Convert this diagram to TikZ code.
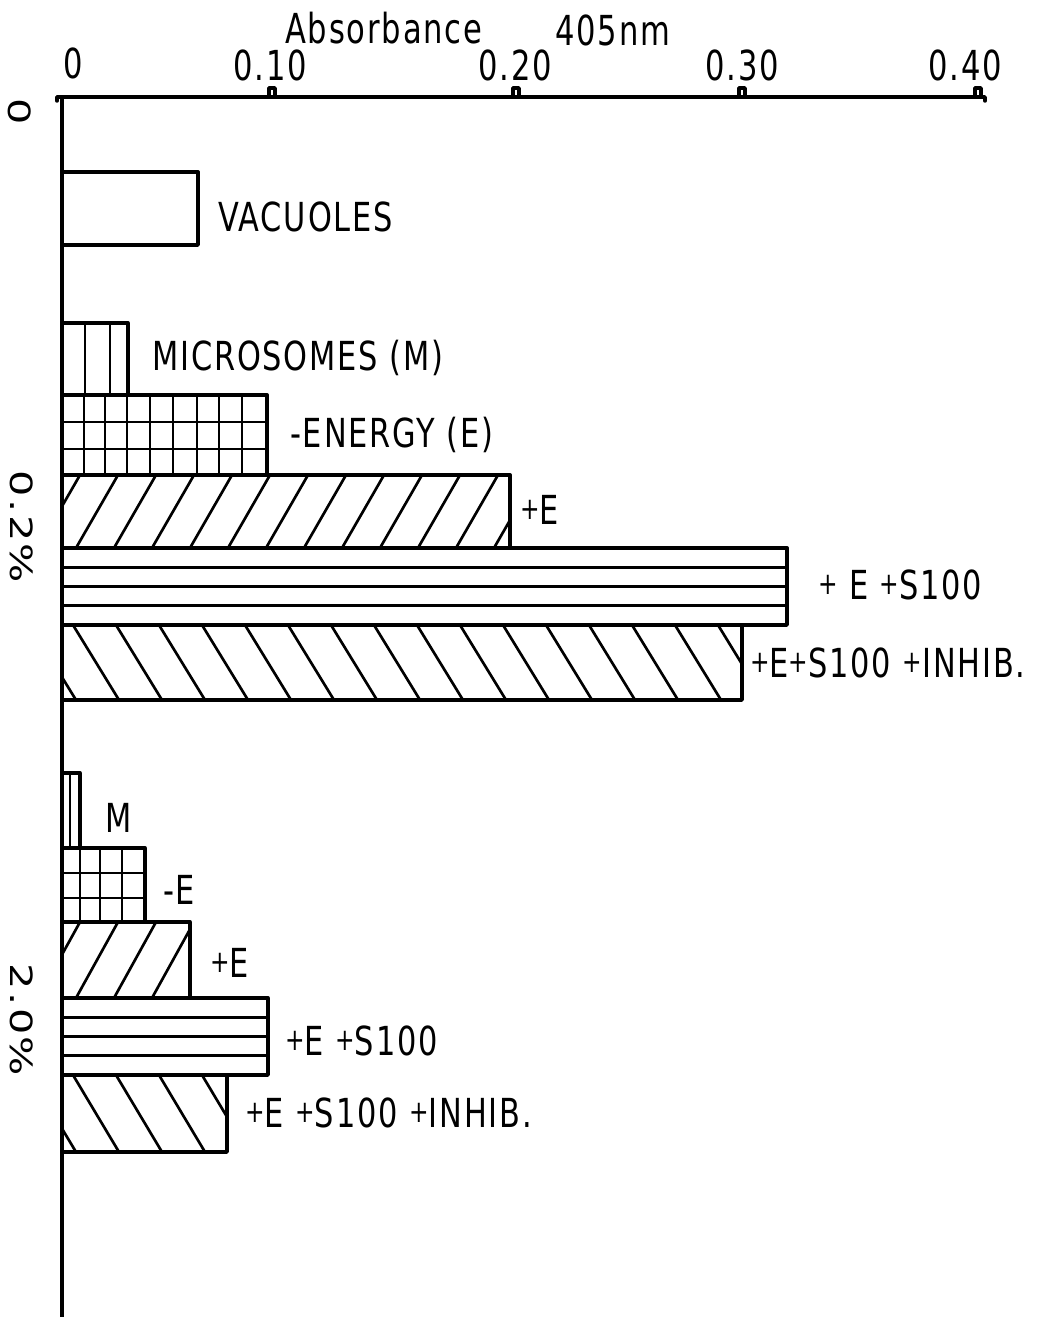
\documentclass[tikz,border=0pt]{standalone}
\usepackage{fontspec}
\newfontfamily\lettering[LetterSpace=6]{DejaVu Sans}
\newcommand\pl{\raisebox{4pt}{\fontsize{23}{23}\selectfont+}}
\begin{document}
\begin{tikzpicture}[x=0.75pt, y=-0.75pt,
    axis/.style = {line width=2.6pt, line cap=round, line join=round},
    bar/.style = {line width=2.5pt, line join=round},
    stroke/.style = {line width=2pt},
    lbl/.style = {anchor=west, inner sep=0pt, xscale=0.76,
      font=\fontsize{30}{30}\selectfont\lettering},
    num/.style = {inner sep=0pt, xscale=0.74,
      font=\fontsize{31}{31}\selectfont\lettering}]
  \useasboundingbox (0,0) rectangle (1041,1317);

  % axes
  \draw[axis] (57,101) -- (57,97) -- (985,97) -- (985,101);
  \draw[axis] (62,97) -- (62,1317);
  \foreach \t in {272,516,742,978}
    \draw[axis] (\t-3,97) -- (\t-3,88) -- (\t+3,88) -- (\t+3,97);
  \node[num] (t0) at (73,63) {0};
  \node[num] (t1) at (270,65) {0.10};
  \node[num] (t2) at (515,65) {0.20};
  \node[num] (t3) at (742,65) {0.30};
  \node[num] (t4) at (965,65) {0.40};
  \node[num, anchor=west] (absname) at (285,28) {Absorbance};
  \node[num, anchor=west] (wave) at (555,30) {405nm};
  \node[num, rotate=-90] (conc0) at (20,112) {0};
  \node[num, rotate=-90] (conc1) at (22,527) {0.2\%};
  \node[num, rotate=-90] (conc2) at (22,1020) {2.0\%};

  % plain bar
  \draw[bar] (62,172) rectangle (198,245);

  % vertical stripes
  \foreach \top/\bot/\right/\cols in {323/395/128/{85,110}, 773/848/80/{70}} {
    \draw[bar] (62,\top) rectangle (\right,\bot);
    \foreach \c in \cols \draw[stroke] (\c,\top) -- (\c,\bot);
  }

  % squares
  \foreach \top/\bot/\right/\cols/\rows in
      {395/475/267/{84,105,127,150,173,197,219,242}/{422,449},
       848/922/145/{80,100,122}/{873,898}} {
    \draw[bar] (62,\top) rectangle (\right,\bot);
    \foreach \c in \cols \draw[stroke] (\c,\top) -- (\c,\bot);
    \foreach \r in \rows \draw[stroke] (62,\r) -- (\right,\r);
  }

  % forward hatch
  \foreach \top/\bot/\right in {475/548/510, 922/998/190} {
    \begin{scope}
      \clip (62,\top) rectangle (\right,\bot);
      \foreach \x in {0,38,...,560} \draw[stroke] (\x,\bot) -- (\x+42,\top);
    \end{scope}
    \draw[bar] (62,\top) rectangle (\right,\bot);
  }

  % horizontal stripes
  \foreach \top/\bot/\right in {548/625/787, 998/1075/268} {
    \draw[bar] (62,\top) rectangle (\right,\bot);
    \foreach \k in {1,2,3}
      \draw[stroke] (62,{\top+\k*(\bot-\top)/4}) -- (\right,{\top+\k*(\bot-\top)/4});
  }

  % backward hatch
  \foreach \top/\bot/\right in {625/700/742, 1075/1152/227} {
    \begin{scope}
      \clip (62,\top) rectangle (\right,\bot);
      \foreach \x in {30,73,...,800} \draw[stroke] (\x,\top) -- (\x+46,\bot);
    \end{scope}
    \draw[bar] (62,\top) rectangle (\right,\bot);
  }

  % bar labels
  \node[lbl] (vac) at (218,217) {VACUOLES};
  \node[lbl] (mic) at (152,358) {MICROSOMES (M)};
  \node[lbl] (noen) at (290,435) {-ENERGY (E)};
  \node[lbl] (en) at (520,510) {\pl E};
  \node[lbl] (s100) at (818,585) {\pl\ E \pl S100};
  \node[lbl] (inhib) at (750,663) {\pl E\pl S100 \pl INHIB.};
  \node[lbl] (mic2) at (105,818) {M};
  \node[lbl] (noen2) at (163,890) {-E};
  \node[lbl] (en2) at (210,963) {\pl E};
  \node[lbl] (s1002) at (285,1041) {\pl E \pl S100};
  \node[lbl] (inhib2) at (245,1113) {\pl E \pl S100 \pl INHIB.};
\end{tikzpicture}
\end{document}
